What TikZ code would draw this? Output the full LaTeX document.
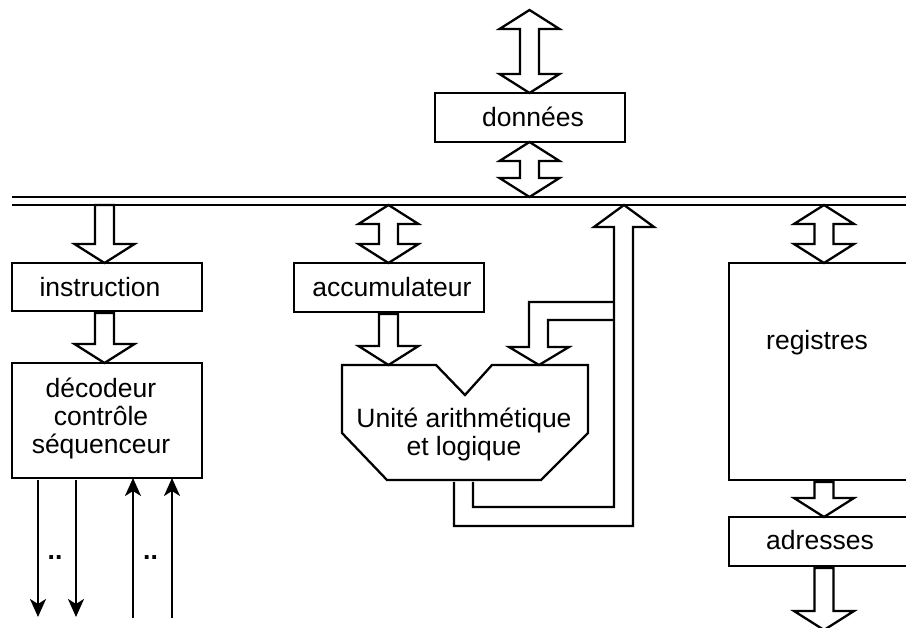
\documentclass[tikz,border=0pt]{standalone}
\usepackage{fontspec}
\setmainfont{Liberation Sans}
\usetikzlibrary{calc,arrows.meta}

\tikzset{
  box/.style={draw, line width=2.3pt, minimum width=190pt, inner sep=0pt, outer sep=0pt},
  txt/.style={font=\fontsize{26.5}{28}\selectfont, inner sep=0pt, anchor=base},
  multi/.style={font=\fontsize{26.5}{28}\selectfont, inner sep=0pt, align=center},
  fat/.style={draw, line width=2.3pt, line join=miter},
  pipe/.style={draw, line width=2.3pt, line join=miter},
  wire/.style={line width=2.3pt, -{Stealth[length=18pt,width=16pt,inset=5pt]}},
  busline/.style={line width=2.3pt},
}

% hollow double-headed arrow between two tips (top, bottom)
\newcommand\fatdbl[2]{%
  \draw[fat] let \p1=(#1), \p2=(#2) in
    (\x1,\y1) -- (\x1+30pt,\y1-19pt) -- (\x1+9.5pt,\y1-19pt)
    -- (\x1+9.5pt,\y2+19pt) -- (\x1+30pt,\y2+19pt) -- (\x1,\y2)
    -- (\x1-30pt,\y2+19pt) -- (\x1-9.5pt,\y2+19pt)
    -- (\x1-9.5pt,\y1-19pt) -- (\x1-30pt,\y1-19pt) -- cycle;}

% hollow downward arrow from a flat shaft end to a tip
\newcommand\fatdown[2]{%
  \draw[fat] let \p1=(#1), \p2=(#2) in
    (\x2,\y2) -- (\x2+30pt,\y2+19pt) -- (\x2+9.5pt,\y2+19pt)
    -- (\x2+9.5pt,\y1) -- (\x2-9.5pt,\y1) -- (\x2-9.5pt,\y2+19pt)
    -- (\x2-30pt,\y2+19pt) -- cycle;}

\begin{document}
\begin{tikzpicture}[x=1pt, y=-1pt]
  \useasboundingbox (0,0) rectangle (906,628);
  \clip (0,0) rectangle (906,628);

  % bus
  \coordinate (bustop) at (0,197);
  \coordinate (bus) at (0,205);
  \coordinate (busL) at (12,197);
  \coordinate (busR) at (920,197);
  \draw[busline] (busL) -- (busR);
  \draw[busline] (busL |- bus) -- (busR |- bus);

  % arrow axes
  \coordinate (xd) at (529.5,0);
  \coordinate (xi) at (104.5,0);
  \coordinate (xa) at (388.5,0);
  \coordinate (xr) at (824,0);

  % boxes
  \node[box, minimum height=49pt]  (don) at (530,117.5) {};
  \node[box, minimum height=48pt]  (ins) at (107,287) {};
  \node[box, minimum height=115pt] (dec) at (107,420.5) {};
  \node[box, minimum height=49pt]  (acc) at (389,287.5) {};
  \node[box, minimum width=188pt, minimum height=217pt] (reg) at (823,371.5) {};
  \node[box, minimum width=188pt, minimum height=49pt]  (adr) at (823,541.5) {};

  % labels
  \node[txt] (don-t) at (533,127) {données};
  \node[txt] (ins-t) at (100,297) {instruction};
  \node[txt] (acc-t) at (392,297) {accumulateur};
  \node[multi] (dec-t) at (101,418) {décodeur\\contrôle\\séquenceur};
  \node[txt] (reg-t) at (817,350) {registres};
  \node[txt] (adr-t) at (820,549) {adresses};

  % data port
  \coordinate (dtop) at (529.5,10);
  \fatdbl{dtop}{xd |- don.north}
  \fatdbl{xd |- don.south}{xd |- bustop}

  % instruction path
  \fatdown{xi |- bus}{xi |- ins.north}
  \fatdown{$(xi |- ins.south)+(0,2)$}{xi |- dec.north}

  % accumulator
  \fatdbl{xa |- bus}{xa |- acc.north}

  % registers
  \fatdbl{xr |- bus}{xr |- reg.north}
  \fatdown{$(xr |- reg.south)+(0,2)$}{xr |- adr.north}
  \coordinate (aout) at (824,630);
  \fatdown{$(xr |- adr.south)+(0,2)$}{aout}

  % arithmetic and logic unit
  \coordinate (alu-a) at (388.5,365);
  \coordinate (alu-b) at (539,365);
  \draw[pipe] (342,365) -- (436,365) -- (465,395) -- (492,365) -- (588,365)
    -- (588,433) -- (541,480) -- (387,480) -- (342,433) -- cycle;
  \node[multi] (alu-t) at (464,434) {Unité arithmétique\\et logique};
  \fatdown{$(xa |- acc.south)+(0,2)$}{alu-a}

  % result returned to the bus
  \coordinate (ret) at (624,205);
  \draw[pipe] (454,482) -- (454,526) -- (633,526) -- (633,227) -- (654,227)
    -- (ret) -- (594,227) -- (614,227) -- (614,507) -- (473,507) -- (473,482);
  % second operand branch
  \draw[pipe] (614,302) -- (529,302) -- (529,347) -- (509,347) -- (alu-b)
    -- (569,347) -- (548,347) -- (548,320) -- (614,320);

  % control lines
  \coordinate (w1) at (38,617);
  \coordinate (w2) at (76,617);
  \coordinate (w3) at (133,618);
  \coordinate (w4) at (172,618);
  \draw[wire] ($(w1 |- dec.south)+(0,2)$) -- (w1);
  \draw[wire] ($(w2 |- dec.south)+(0,2)$) -- (w2);
  \draw[wire] (w3) -- (w3 |- dec.south);
  \draw[wire] (w4) -- (w4 |- dec.south);
  \node[txt, font=\fontsize{26.5}{28}\selectfont\bfseries] (dots1) at (55,559) {..};
  \node[txt, font=\fontsize{26.5}{28}\selectfont\bfseries] (dots2) at (150.5,559) {..};
\end{tikzpicture}
\end{document}
